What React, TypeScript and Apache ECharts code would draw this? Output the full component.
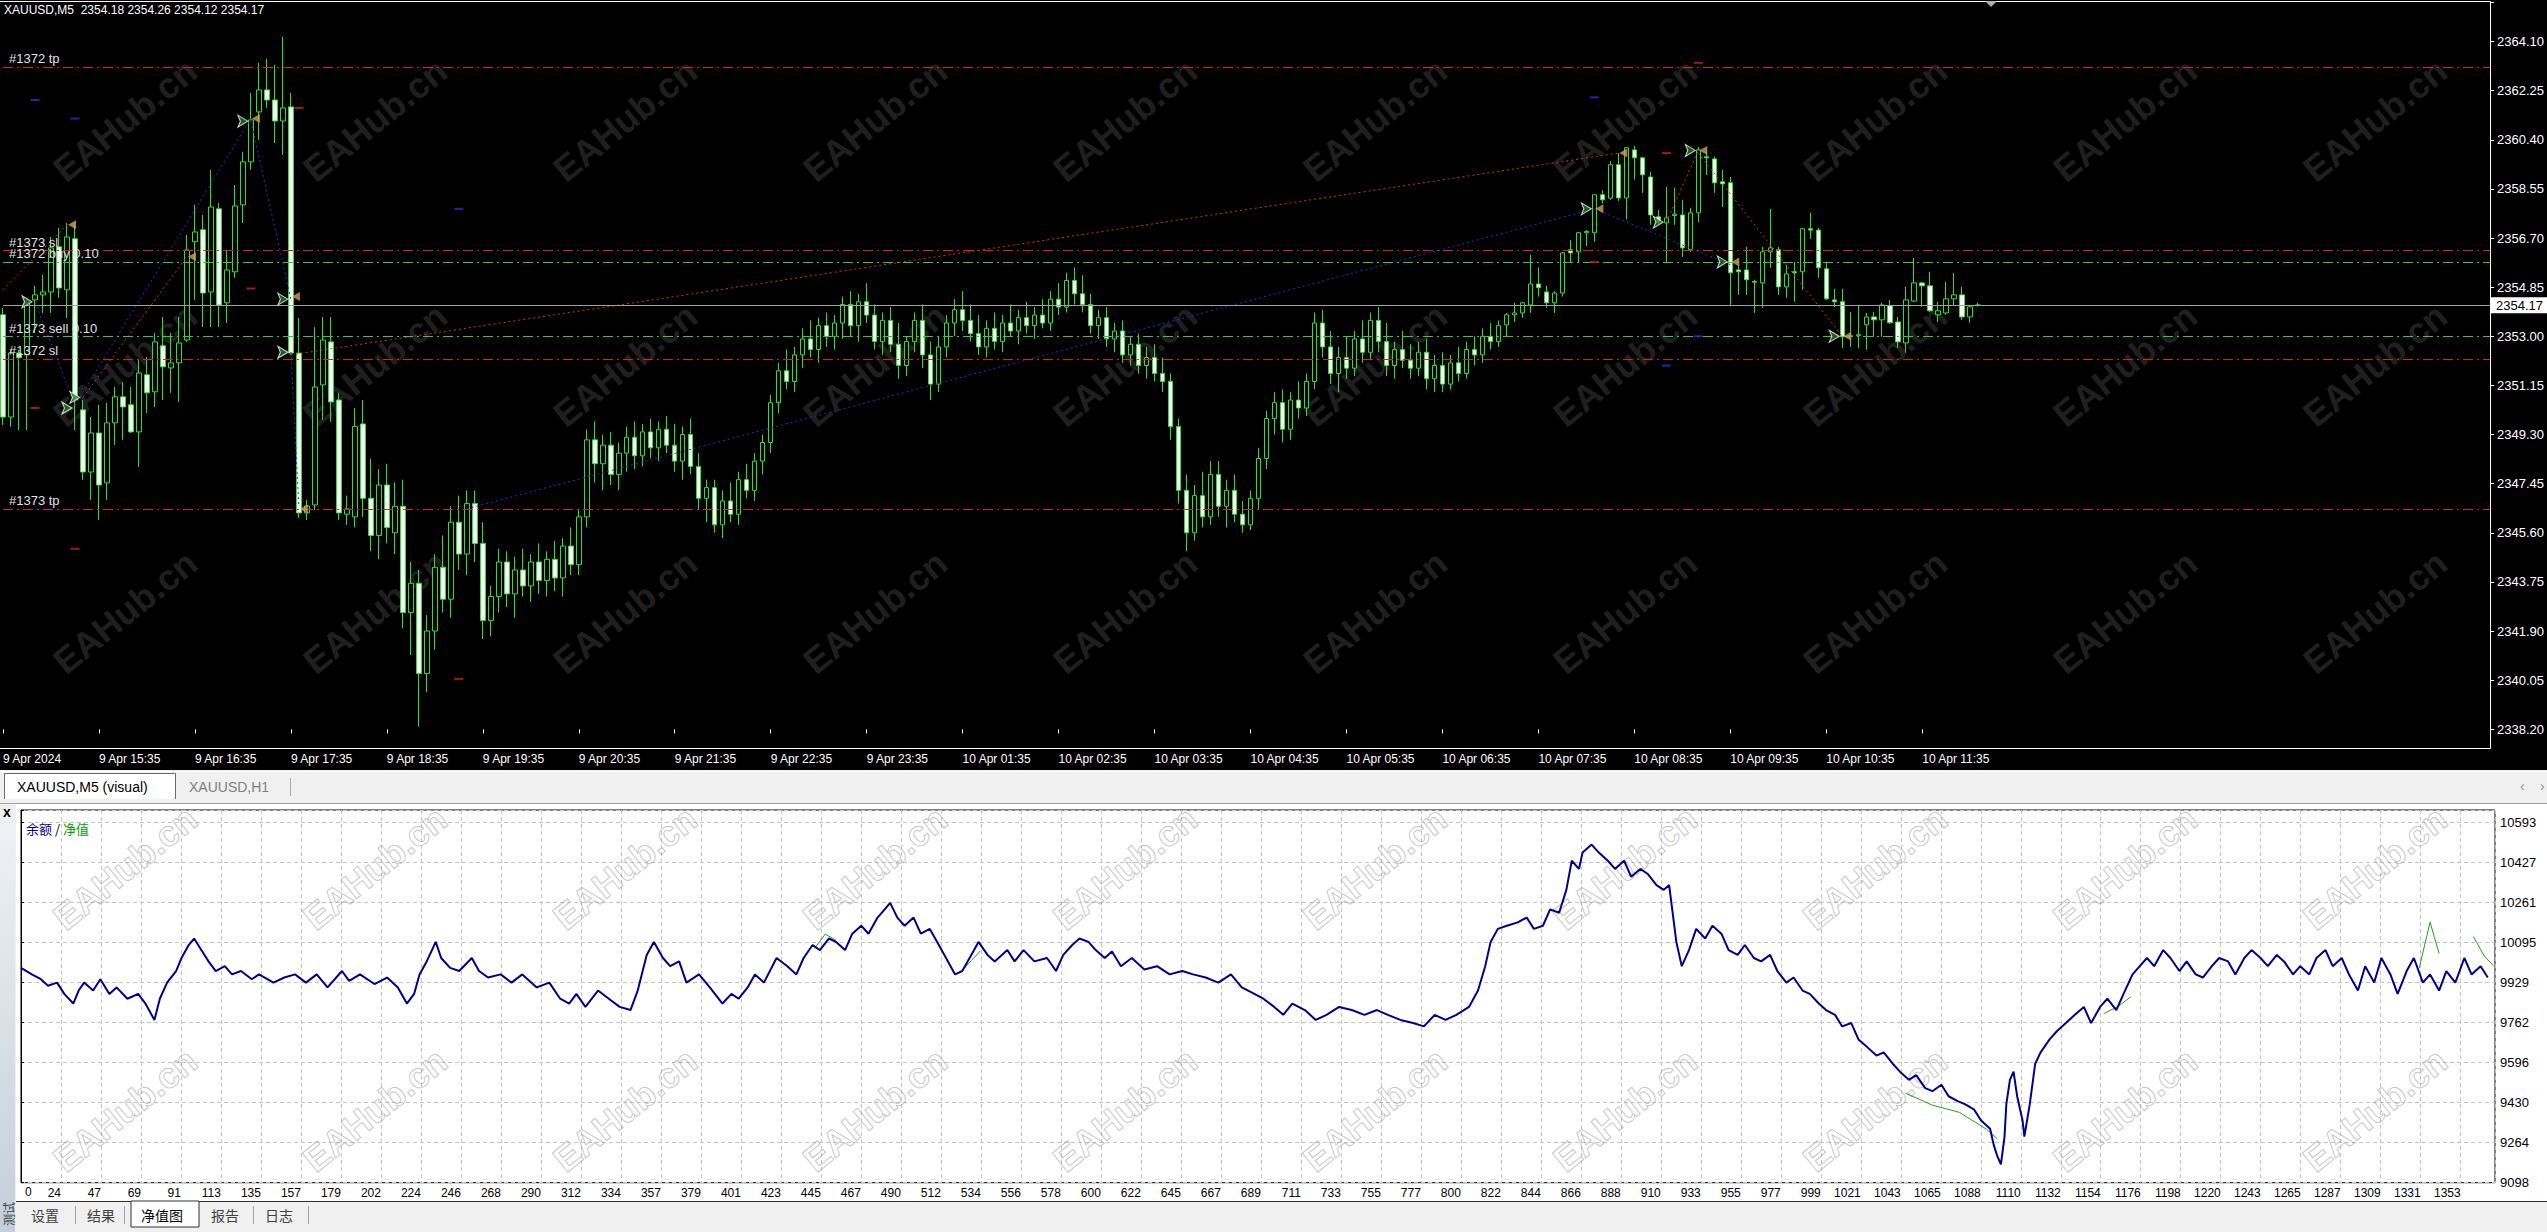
import React, { useEffect, useRef } from "react";
import * as echarts from "echarts";

const W = 2547;
const H = 1232;

// ---------------- price chart data (XAUUSD M5) ----------------
const timeLabels = ["9 Apr 2024","9 Apr 15:35","9 Apr 16:35","9 Apr 17:35","9 Apr 18:35","9 Apr 19:35","9 Apr 20:35","9 Apr 21:35","9 Apr 22:35","9 Apr 23:35","10 Apr 01:35","10 Apr 02:35","10 Apr 03:35","10 Apr 04:35","10 Apr 05:35","10 Apr 06:35","10 Apr 07:35","10 Apr 08:35","10 Apr 09:35","10 Apr 10:35","10 Apr 11:35"];
const priceTickLabels = ["2338.20","2340.05","2341.90","2343.75","2345.60","2347.45","2349.30","2351.15","2353.00","2354.85","2356.70","2358.55","2360.40","2362.25","2364.10"];

const barOpen = [2353.81,2349.96,2352.37,2352.30,2354.37,2354.56,2354.67,2356.37,2354.75,2356.67,2350.23,2347.89,2349.36,2347.48,2349.74,2350.72,2350.42,2349.40,2351.55,2350.91,2352.64,2351.81,2352.00,2352.86,2356.56,2357.01,2354.67,2357.80,2354.26,2355.43,2357.95,2359.57,2361.45,2362.28,2361.90,2361.11,2361.64,2352.37,2346.35,2346.65,2351.17,2352.79,2350.60,
2346.3,2346.2,2349.7,2346.9,2345.5,2347.4,2345.6,2346.6,2342.6,2343.7,2340.3,2341.9,2344.3,2343.1,2346.0,2344.8,2346.7,2345.2,2342.3,2343.2,2344.5,2343.3,2344.2,2343.6,2344.5,2343.8,2344.6,2343.9,2345.1,2344.4,2346.2,2349.1,2348.2,2348.9,2347.8,2348.6,2349.2,2348.5,2349.4,2348.8,2349.5,2348.9,2348.3,2349.3,2348.1,2346.9,2347.3,2345.9,2346.8,2346.3,2347.6,2347.2,2348.3,2349.0,2350.5,2351.7,2351.3,2352.3,2352.9,2352.5,2353.4,2353.0,2353.5,2354.2,2353.4,2354.3,2353.8,2352.8,2353.6,2352.7,2351.9,2352.8,2353.6,2352.3,2351.2,2352.6,2353.5,2354.0,2353.6,2353.1,2352.6,2353.3,2352.8,2353.5,2353.2,2353.7,2353.4,2353.8,2353.5,2354.4,2354.1,2355.1,2354.6,2354.2,2353.4,2353.7,2352.9,2353.2,2352.3,2352.7,2351.9,2352.2,2351.6,2351.3,2349.6,2347.2,2345.6,2347.0,2346.2,2347.8,2346.6,2347.2,2346.3,2345.9,2346.9,2348.4,2349.9,2350.5,2349.5,2350.6,2350.3,2351.3,2353.5,2352.6,2351.6,2352.2,2351.8,2352.9,2352.4,2353.6,2352.8,2351.9,2352.5,2352.1,2351.8,2352.4,2351.4,2351.9,2351.2,2352.0,2351.6,2352.5,2352.3,2353.0,2352.8,
2353.43,2353.81,2353.88,2354.18,2354.97,2354.67,2354.26,2354.63,2356.26,2356.18,2356.90,2356.90,2358.33,2358.20,2359.46,2358.21,2360.02,2359.72,2359.00,2357.50,2357.27,2357.55,2357.57,2356.26,2357.65,2359.76,2359.68,2358.82,2358.78,2355.50,2355.50,2355.06,2355.01,2356.18,2356.26,2354.86,2355.43,2355.43,2357.05,2357.00,2355.54,2354.37,2354.30,2353.00,2353.02,2353.43,2353.73,2353.62,2354.15,2353.54,2352.75,2354.33,2355.01,2354.90,2353.81,2353.88,2354.41,2354.56,2353.73,2354.18];
const barHigh = [2354.07,2352.49,2352.49,2354.37,2354.90,2355.31,2356.74,2357.08,2357.27,2357.27,2350.60,2349.96,2350.42,2350.49,2351.09,2351.28,2351.09,2352.11,2352.22,2353.13,2353.73,2353.13,2353.73,2356.82,2357.95,2357.57,2359.27,2358.02,2356.25,2358.70,2359.95,2362.17,2363.30,2363.45,2363.22,2364.28,2362.17,2353.69,2346.84,2353.35,2353.73,2353.73,2350.87,
2347.0,2350.3,2350.6,2348.4,2348.0,2348.2,2347.5,2347.6,2344.5,2344.2,2342.5,2344.8,2345.5,2346.6,2347.0,2347.2,2347.2,2346.0,2343.6,2345.0,2344.9,2344.7,2345.0,2344.8,2345.2,2344.9,2345.3,2345.4,2345.8,2346.5,2349.5,2349.8,2349.3,2349.4,2349.0,2349.6,2349.8,2349.7,2349.9,2349.8,2350.0,2349.7,2349.6,2349.9,2348.6,2347.6,2347.6,2347.2,2347.5,2347.9,2348.2,2348.6,2349.3,2350.8,2352.0,2352.5,2352.6,2353.3,2353.6,2353.7,2353.9,2353.8,2354.5,2354.7,2354.6,2355.0,2354.2,2353.9,2354.1,2353.5,2353.0,2353.9,2354.2,2352.8,2353.0,2353.8,2354.4,2354.7,2354.2,2353.8,2353.6,2353.9,2353.8,2354.2,2354.0,2354.3,2354.1,2354.4,2354.7,2355.0,2355.4,2355.6,2355.3,2354.6,2354.0,2354.1,2353.5,2353.6,2353.0,2353.1,2352.6,2352.7,2352.2,2351.6,2349.9,2347.8,2347.4,2347.9,2348.3,2348.3,2347.6,2347.8,2346.8,2347.2,2348.8,2350.2,2350.9,2351.0,2350.9,2351.3,2351.6,2353.9,2354.0,2353.2,2352.6,2353.0,2353.2,2353.6,2353.9,2354.1,2353.5,2352.8,2353.2,2352.7,2352.8,2352.9,2352.3,2352.4,2352.3,2352.6,2352.8,2353.0,2353.3,2353.5,2353.6,
2353.88,2354.26,2354.30,2356.07,2355.60,2354.90,2354.70,2356.18,2356.63,2356.93,2357.00,2358.33,2358.50,2359.60,2359.90,2360.13,2360.17,2359.76,2359.20,2357.76,2358.63,2358.60,2358.14,2357.84,2360.13,2359.95,2359.76,2359.27,2359.00,2355.69,2356.37,2355.13,2356.37,2357.80,2356.37,2355.69,2355.80,2357.08,2357.65,2357.08,2355.80,2354.79,2354.79,2353.92,2354.18,2353.88,2353.92,2354.26,2354.37,2353.73,2354.86,2355.95,2355.05,2355.43,2354.30,2355.05,2355.39,2354.86,2354.18,2354.26];
const barLow = [2349.66,2349.59,2349.47,2349.47,2353.13,2353.88,2353.88,2354.45,2353.69,2349.47,2347.59,2346.84,2346.08,2346.84,2348.91,2349.10,2349.36,2348.08,2350.11,2350.34,2350.60,2350.87,2350.53,2352.79,2354.37,2353.35,2353.35,2353.35,2353.50,2355.20,2357.27,2359.27,2360.40,2361.60,2360.28,2359.83,2352.30,2346.16,2346.08,2346.46,2349.85,2349.78,2346.08,
2345.9,2345.8,2346.2,2344.9,2344.6,2345.2,2344.8,2342.0,2341.0,2338.3,2339.6,2341.2,2342.6,2342.4,2344.2,2344.0,2344.5,2341.6,2341.7,2342.6,2342.8,2342.4,2343.2,2343.0,2343.3,2343.2,2343.4,2343.2,2344.0,2344.0,2345.8,2347.5,2347.2,2347.4,2347.2,2347.9,2348.0,2348.1,2348.4,2348.3,2348.6,2347.9,2347.6,2347.8,2346.5,2346.0,2345.6,2345.4,2346.0,2345.9,2346.9,2346.8,2347.8,2348.6,2350.1,2351.0,2350.9,2351.8,2352.2,2352.0,2352.6,2352.5,2352.9,2353.0,2352.8,2353.5,2352.5,2352.3,2352.4,2351.4,2351.5,2352.4,2351.8,2350.6,2350.9,2352.2,2353.0,2353.2,2352.8,2352.3,2352.2,2352.5,2352.4,2353.0,2352.7,2353.1,2352.9,2353.3,2353.2,2353.8,2353.9,2354.2,2353.9,2353.1,2352.9,2352.6,2352.4,2352.0,2351.9,2351.6,2351.4,2351.3,2350.9,2349.1,2346.7,2344.9,2345.3,2345.8,2345.9,2346.2,2345.8,2346.0,2345.6,2345.7,2346.5,2348.0,2349.3,2349.0,2349.1,2349.9,2350.0,2351.0,2352.2,2351.2,2350.9,2351.4,2351.5,2352.0,2352.1,2352.4,2351.5,2351.4,2351.8,2351.4,2351.5,2351.0,2350.9,2350.9,2351.0,2351.3,2351.4,2351.9,2352.0,2352.5,2352.6,
2352.98,2353.54,2353.70,2353.88,2354.50,2354.07,2353.88,2354.50,2355.80,2355.77,2356.40,2356.56,2358.00,2358.14,2358.10,2357.40,2358.90,2358.40,2357.20,2357.20,2355.80,2357.20,2355.99,2356.18,2357.30,2359.08,2358.40,2357.87,2354.18,2354.56,2354.56,2353.88,2354.07,2355.58,2354.56,2354.45,2354.30,2354.75,2356.67,2355.20,2354.37,2354.10,2352.56,2352.60,2352.56,2352.49,2352.98,2352.98,2353.47,2352.56,2352.38,2354.30,2354.11,2353.92,2353.54,2353.81,2354.18,2353.62,2353.51,2354.12];
const barClose = [2349.96,2352.37,2352.19,2354.26,2354.56,2354.67,2356.33,2354.82,2356.74,2350.60,2347.89,2349.36,2347.40,2349.74,2350.72,2350.34,2349.40,2351.62,2350.87,2352.79,2351.85,2352.00,2352.75,2356.25,2356.93,2354.63,2357.87,2354.18,2355.50,2357.91,2359.57,2361.15,2362.28,2361.90,2361.11,2361.60,2352.37,2346.35,2346.61,2351.09,2352.86,2350.53,2346.35,
2346.5,2349.6,2346.9,2345.5,2347.4,2345.8,2346.6,2342.6,2343.7,2340.3,2341.9,2344.3,2343.1,2346.0,2344.8,2346.7,2345.2,2342.3,2343.2,2344.5,2343.3,2344.2,2343.6,2344.5,2343.8,2344.6,2343.9,2345.1,2344.4,2346.2,2349.1,2348.2,2348.9,2347.8,2348.6,2349.2,2348.5,2349.4,2348.8,2349.5,2348.9,2348.3,2349.3,2348.1,2346.9,2347.3,2345.9,2346.8,2346.3,2347.6,2347.2,2348.3,2349.0,2350.5,2351.7,2351.3,2352.3,2352.9,2352.5,2353.4,2353.0,2353.5,2354.2,2353.4,2354.3,2353.8,2352.8,2353.6,2352.7,2351.9,2352.8,2353.6,2352.3,2351.2,2352.6,2353.5,2354.0,2353.6,2353.1,2352.6,2353.3,2352.8,2353.5,2353.2,2353.7,2353.4,2353.8,2353.5,2354.4,2354.1,2355.1,2354.6,2354.2,2353.4,2353.7,2352.9,2353.2,2352.3,2352.7,2351.9,2352.2,2351.6,2351.3,2349.6,2347.2,2345.6,2347.0,2346.2,2347.8,2346.6,2347.2,2346.3,2345.9,2346.9,2348.4,2349.9,2350.5,2349.5,2350.6,2350.3,2351.3,2353.5,2352.6,2351.6,2352.2,2351.8,2352.9,2352.4,2353.6,2352.8,2351.9,2352.5,2352.1,2351.8,2352.4,2351.4,2351.9,2351.2,2352.0,2351.6,2352.5,2352.3,2353.0,2352.8,2353.4,
2353.81,2353.88,2354.26,2354.97,2354.83,2354.26,2354.63,2356.14,2356.14,2356.90,2356.95,2358.33,2358.14,2359.46,2358.21,2360.10,2359.72,2359.08,2357.57,2357.27,2357.46,2357.60,2356.33,2357.65,2360.02,2359.72,2358.78,2358.74,2355.39,2355.43,2355.13,2355.04,2356.18,2356.33,2354.86,2355.35,2355.39,2357.05,2357.00,2355.58,2354.41,2354.30,2352.98,2353.02,2353.06,2353.73,2353.62,2354.18,2353.51,2352.79,2354.37,2355.01,2354.90,2353.96,2353.96,2354.41,2354.56,2353.73,2354.11,2354.17];

const orderNames = ["#1372 tp", "#1373 sl", "#1372 buy 0.10", "#1373 sell 0.10", "#1372 sl", "#1373 tp"];
const orderPrices = [2363.15, 2356.23, 2355.79, 2352.99, 2352.15, 2346.50];
const orderIsEntry = [false, false, true, true, false, false];
const lastPrice = 2354.17;
const headerText = "XAUUSD,M5  2354.18 2354.26 2354.12 2354.17";

// trade connection lines: [bar, price] -> [bar, price]
const buyTradeBars = [[4, 9], [9, 31], [31, 36], [36, 37], [58, 199], [199, 216]];
const buyTradePrices = [[2354.3, 2350.4], [2350.4, 2361.2], [2361.1, 2354.4], [2352.4, 2346.6], [2346.5, 2357.8], [2357.8, 2355.7]];
const sellTradeBars = [[0, 8], [10, 23], [36, 202], [208, 212], [212, 230]];
const sellTradePrices = [[2354.75, 2357.2], [2350.7, 2356.0], [2352.3, 2359.9], [2357.3, 2360.0], [2359.9, 2353.0]];
// trade arrows
const openArrowBars = [4, 9, 10, 31, 36, 36, 199, 208, 212, 216, 230];
const openArrowPrices = [2354.3, 2350.3, 2350.7, 2361.1, 2354.4, 2352.4, 2357.8, 2357.3, 2360.0, 2355.8, 2353.0];
const closeMarkBars = [8, 23, 31, 36, 37, 199, 202, 212, 216, 230];
const closeMarkPrices = [2357.2, 2356.0, 2361.2, 2354.5, 2346.5, 2357.8, 2359.9, 2360.0, 2355.8, 2353.0];
// stop / take-profit history dashes
const redDashBars = [4, 9, 31, 37, 57, 199, 208, 212];
const redDashPrices = [2350.3, 2345.0, 2354.8, 2361.6, 2340.1, 2355.8, 2359.9, 2363.3];
const blueDashBars = [4, 9, 57, 199, 208, 212];
const blueDashPrices = [2361.9, 2361.2, 2357.8, 2362.0, 2351.9, 2353.0];

// ---------------- equity chart data ----------------
const eqXLabels = ["0","24","47","69","91","113","135","157","179","202","224","246","268","290","312","334","357","379","401","423","445","467","490","512","534","556","578","600","622","645","667","689","711","733","755","777","800","822","844","866","888","910","933","955","977","999","1021","1043","1065","1088","1110","1132","1154","1176","1198","1220","1243","1265","1287","1309","1331","1353"];
const eqYLabels = ["9098","9264","9430","9596","9762","9929","10095","10261","10427","10593"];
const eqIndex = [0,6,11,15,20,24,29,32,35,40,44,49,53,59,65,69,74,77,81,86,89,93,96,100,104,108,113,117,122,128,132,140,146,152,158,164,170,178,182,188,196,203,209,214,218,221,225,230,233,238,243,250,254,259,266,272,278,286,293,299,304,308,313,320,326,332,338,342,347,351,356,360,365,369,376,382,389,394,398,403,407,412,419,425,430,434,439,443,448,452,457,461,466,470,475,479,482,486,490,495,499,504,509,513,518,522,527,531,536,540,547,551,556,562,569,574,578,583,587,592,596,601,605,610,616,623,630,637,644,650,657,664,671,677,684,689,695,700,705,712,718,724,731,738,745,752,758,765,772,778,784,790,796,803,808,812,815,819,824,830,835,839,844,848,853,857,860,864,866,871,875,880,884,889,893,898,902,907,911,914,918,921,925,929,934,938,943,947,952,956,961,965,970,974,979,983,988,992,997,1001,1006,1010,1015,1019,1024,1029,1033,1038,1042,1047,1051,1056,1060,1065,1069,1074,1078,1083,1087,1092,1094,1096,1098,1100,1101,1103,1105,1107,1110,1111,1114,1117,1120,1125,1129,1134,1139,1144,1148,1153,1157,1162,1166,1171,1175,1179,1183,1188,1192,1197,1201,1206,1210,1215,1219,1224,1228,1233,1237,1242,1246,1251,1255,1260,1264,1269,1273,1278,1282,1287,1291,1296,1300,1305,1309,1314,1318,1323,1327,1332,1336,1341,1345,1350,1355,1359,1364,1368];
const eqBalance = [9990,9963,9943,9916,9929,9882,9842,9896,9929,9896,9943,9882,9909,9862,9882,9842,9774,9862,9929,9977,10031,10085,10112,10064,10017,9977,9997,9963,9977,9943,9963,9929,9950,9963,9929,9963,9909,9977,9936,9963,9923,9950,9909,9842,9882,9963,10017,10098,10031,9990,9977,10031,9977,9950,9963,9929,9963,9909,9929,9862,9842,9882,9828,9896,9862,9828,9815,9896,10044,10098,10031,9997,10017,9929,9963,9909,9842,9882,9862,9909,9963,9929,10031,9997,9963,10031,10085,10064,10112,10098,10064,10132,10165,10132,10199,10233,10260,10199,10165,10199,10132,10152,10085,10031,9963,9977,10044,10098,10044,10017,10064,10017,10064,10017,10031,9977,10044,10085,10112,10098,10064,10031,10058,9997,10031,9983,9997,9963,9977,9963,9950,9929,9963,9909,9882,9862,9828,9795,9842,9815,9774,9795,9828,9815,9795,9815,9795,9774,9761,9747,9795,9774,9795,9828,9896,9997,10098,10152,10165,10179,10199,10152,10165,10233,10219,10314,10435,10401,10469,10502,10469,10435,10401,10435,10368,10401,10381,10334,10314,10334,10098,9997,10064,10152,10112,10165,10132,10064,10044,10085,10031,10017,10044,9977,9929,9950,9896,9882,9842,9815,9795,9747,9761,9693,9660,9626,9639,9592,9559,9525,9545,9491,9478,9505,9457,9437,9424,9403,9356,9322,9255,9208,9174,9289,9424,9525,9559,9457,9356,9289,9424,9592,9639,9693,9727,9761,9795,9828,9761,9828,9862,9815,9882,9963,9997,10031,9997,10064,10031,9977,10017,9963,9950,9997,10031,10017,9963,10031,10064,10031,9997,10044,10017,9963,9997,9963,10031,10064,9997,10031,9963,9896,9997,9929,10031,9963,9882,9977,10031,9929,9963,9896,9977,9929,10031,9963,9997,9950];
// equity (green) where it separates from the balance line; null breaks the line
const eqGreenIndex = [440, 446, 452, null, 522, 527, 532, null, 1045, 1060, 1075, 1090, 1096, null, 1155, 1163, 1170, null, 1330, 1336, 1341, null, 1360, 1366, 1371];
const eqGreenValue = [10070, 10130, 10105, null, 9980, 10020, 10060, null, 9470, 9420, 9390, 9320, 9280, null, 9800, 9830, 9870, null, 9990, 10180, 10050, null, 10120, 10040, 10000];

// ---------------- axis constants ----------------
const PRICE_BASE = 2338.2;
const PRICE_STEP = 1.85;
const PRICE_SPAN = 27.39;
const BAR_SLOTS = 312;
const EQ_BASE = 9098;
const EQ_STEP = 166.11;
const EQ_SPAN = 1547.7;
const EQ_X_STEP = 22.18;
const EQ_X_MAX = 1372;

const FONT = '"Liberation Sans", Arial, sans-serif';
const CJK = '"Noto Sans CJK SC", "Noto Sans", sans-serif';

function txt(x: number, y: number, text: string, style: any, extra: any = {}) {
  return { type: "text", x, y, silent: true, style: { text, ...style }, ...extra };
}

function buildGraphics() {
  const g: any[] = [];
  g.push({ type: "rect", silent: true, z: -100, shape: { x: 0, y: 0, width: W, height: 770 }, style: { fill: "#000" } });
  g.push({ type: "rect", silent: true, z: -100, shape: { x: 0, y: 770, width: W, height: H - 770 }, style: { fill: "#f0f0f0" } });
  g.push({ type: "rect", silent: true, z: -99, shape: { x: 16, y: 804, width: W - 16, height: 397 }, style: { fill: "#ffffff" } });
  g.push({
    type: "rect", silent: true, z: -99, shape: { x: 0, y: 824, width: 15, height: H - 824 },
    style: { fill: new echarts.graphic.LinearGradient(0, 0, 0, 1, [{ offset: 0, color: "#eef1f5" }, { offset: 1, color: "#c3cfdb" }]) },
  });
  g.push({ type: "line", silent: true, z: 5, shape: { x1: 0, y1: 1.5, x2: 2490.5, y2: 1.5 }, style: { stroke: "#ffffff", lineWidth: 1 } });
  g.push({ type: "line", silent: true, z: 5, shape: { x1: 2490.5, y1: 1.5, x2: 2490.5, y2: 748.5 }, style: { stroke: "#ffffff", lineWidth: 1 } });
  g.push({ type: "line", silent: true, z: 5, shape: { x1: 0, y1: 748.5, x2: 2490.5, y2: 748.5 }, style: { stroke: "#ffffff", lineWidth: 1 } });
  g.push({ type: "polygon", silent: true, z: 5, shape: { points: [[1985, 1], [1997, 1], [1991, 7]] }, style: { fill: "#b0b0b0" } });
  g.push(txt(4, 10, headerText, { fill: "#ffffff", font: `12px ${FONT}`, textVerticalAlign: "middle", verticalAlign: "middle" }, { z: 6 }));

  g.push({ type: "line", silent: true, z: -98, shape: { x1: 0, y1: 771.5, x2: W, y2: 771.5 }, style: { stroke: "#ffffff", lineWidth: 1 } });
  g.push({ type: "rect", silent: true, z: -97, shape: { x: 4, y: 773, width: 171, height: 26 }, style: { fill: "#ffffff" } });
  g.push({ type: "polyline", silent: true, z: -96, shape: { points: [[4.5, 799], [4.5, 773.5], [175.5, 773.5], [175.5, 799]] }, style: { stroke: "#6a6a6a", lineWidth: 1, fill: "none" } });
  g.push(txt(17, 787, "XAUUSD,M5 (visual)", { fill: "#000", font: `14px ${FONT}`, textVerticalAlign: "middle", verticalAlign: "middle" }));
  g.push(txt(189, 787, "XAUUSD,H1", { fill: "#808080", font: `14px ${FONT}`, textVerticalAlign: "middle", verticalAlign: "middle" }));
  g.push({ type: "line", silent: true, shape: { x1: 290.5, y1: 778, x2: 290.5, y2: 796 }, style: { stroke: "#a8a8a8", lineWidth: 1 } });
  g.push(txt(2520, 786, "‹", { fill: "#909090", font: `14px ${FONT}`, textVerticalAlign: "middle", verticalAlign: "middle" }));
  g.push(txt(2540, 786, "›", { fill: "#909090", font: `14px ${FONT}`, textVerticalAlign: "middle", verticalAlign: "middle" }));
  g.push({ type: "line", silent: true, z: -98, shape: { x1: 0, y1: 803.5, x2: W, y2: 803.5 }, style: { stroke: "#a0a0a0", lineWidth: 1 } });
  g.push(txt(7, 812, "x", { fill: "#000", font: `bold 14px ${FONT}`, textAlign: "center", align: "center", textVerticalAlign: "middle", verticalAlign: "middle" }));

  g.push(txt(26, 828, "{a|余额} {b|/} {c|净值}", {
    font: `13px ${CJK}`, textVerticalAlign: "middle", verticalAlign: "middle",
    rich: { a: { fill: "#000080", font: `13px ${CJK}` }, b: { fill: "#000", font: `13px ${CJK}` }, c: { fill: "#00a000", font: `13px ${CJK}` } },
  }, { z: 10 }));
  g.push(txt(25, 1192, eqXLabels[0], { fill: "#000", font: `12px ${FONT}`, textVerticalAlign: "middle", verticalAlign: "middle" }));

  g.push({ type: "line", silent: true, shape: { x1: 16, y1: 1201.5, x2: W, y2: 1201.5 }, style: { stroke: "#303030", lineWidth: 1 } });
  g.push({ type: "rect", silent: true, shape: { x: 131, y: 1201, width: 68, height: 26 }, style: { fill: "#ffffff", stroke: "#303030", lineWidth: 1 } });
  const tabNames = ["设置", "结果", "净值图", "报告", "日志"];
  const tabX = [31, 87, 141, 211, 265];
  tabNames.forEach((t, i) => g.push(txt(tabX[i], 1215, t, { fill: i === 2 ? "#000" : "#404040", font: `14px ${CJK}`, textVerticalAlign: "middle", verticalAlign: "middle" })));
  [75.5, 124.5, 253.5, 308.5].forEach((x) => g.push({ type: "line", silent: true, shape: { x1: x, y1: 1206, x2: x, y2: 1224 }, style: { stroke: "#a0a0a0", lineWidth: 1 } }));
  g.push(txt(8, 1214, "测试", { fill: "#404040", font: `12px ${CJK}`, textAlign: "center", align: "center", textVerticalAlign: "middle", verticalAlign: "middle" }, { rotation: Math.PI / 2 }));

  const cols = [125, 375, 625, 875, 1125, 1375, 1625, 1875, 2125, 2375];
  [120, 365, 612].forEach((y) => cols.forEach((x) => g.push(txt(x, y, "EAHub.cn", {
    fill: "rgba(255,255,255,0.14)", font: `bold 36px ${FONT}`, textAlign: "center", align: "center", textVerticalAlign: "middle", verticalAlign: "middle",
  }, { rotation: 0.68, z: 1 }))));
  [868, 1110].forEach((y) => cols.forEach((x) => g.push(txt(x, y, "EAHub.cn", {
    fill: "rgba(255,255,255,0)", stroke: "rgba(150,150,150,0.55)", lineWidth: 1, font: `bold 36px ${FONT}`, textAlign: "center", align: "center", textVerticalAlign: "middle", verticalAlign: "middle",
  }, { rotation: 0.68, z: 1 }))));
  return g;
}

function buildOption() {
  const cats = Array.from({ length: BAR_SLOTS }, (_, i) => String(i));
  const candleData = barOpen.map((o, i) => [o - PRICE_BASE, barClose[i] - PRICE_BASE, barLow[i] - PRICE_BASE, barHigh[i] - PRICE_BASE]);
  const tickShown = (idx: number) => idx % 12 === 0 && idx / 12 < timeLabels.length;

  const markData: any[] = orderNames.map((name, i) => ({
    yAxis: orderPrices[i] - PRICE_BASE,
    lineStyle: { color: orderIsEntry[i] ? "#3cc83c" : "#e01e1e", type: [10, 4, 2, 4], width: 1 },
    label: { show: true, position: "insideStartTop", formatter: name, color: "#e0e0e0", fontSize: 13, fontFamily: FONT, distance: [6, 2] },
  }));
  markData.push({
    yAxis: lastPrice - PRICE_BASE,
    lineStyle: { color: "#a0a0a0", type: "solid", width: 1 },
    label: { show: true, position: "end", formatter: lastPrice.toFixed(2), color: "#000", backgroundColor: "#ffffff", padding: [2, 6, 1, 5], fontSize: 13, fontFamily: FONT, distance: 1 },
  });

  const extra: any[] = [];
  buyTradeBars.forEach((b, i) => extra.push({
    type: "line", xAxisIndex: 0, yAxisIndex: 0, symbol: "none", silent: true, z: 4,
    lineStyle: { color: "#2a2ae0", width: 1, type: [2, 3] },
    data: [[b[0], buyTradePrices[i][0] - PRICE_BASE], [b[1], buyTradePrices[i][1] - PRICE_BASE]],
  }));
  sellTradeBars.forEach((b, i) => extra.push({
    type: "line", xAxisIndex: 0, yAxisIndex: 0, symbol: "none", silent: true, z: 4,
    lineStyle: { color: "#e02a2a", width: 1, type: [2, 3] },
    data: [[b[0], sellTradePrices[i][0] - PRICE_BASE], [b[1], sellTradePrices[i][1] - PRICE_BASE]],
  }));
  extra.push({
    type: "scatter", xAxisIndex: 0, yAxisIndex: 0, silent: true, z: 5,
    symbol: "rect", symbolSize: [9, 2], itemStyle: { color: "#d01e1e" },
    data: redDashBars.map((b, i) => [b, redDashPrices[i] - PRICE_BASE]),
  });
  extra.push({
    type: "scatter", xAxisIndex: 0, yAxisIndex: 0, silent: true, z: 5,
    symbol: "rect", symbolSize: [9, 2], itemStyle: { color: "#2a2ae0" },
    data: blueDashBars.map((b, i) => [b, blueDashPrices[i] - PRICE_BASE]),
  });
  extra.push({
    type: "scatter", xAxisIndex: 0, yAxisIndex: 0, silent: true, z: 6,
    symbol: "triangle", symbolSize: [9, 8], symbolRotate: 90, symbolOffset: [5, 0],
    itemStyle: { color: "#d8a050" },
    data: closeMarkBars.map((b, i) => [b, closeMarkPrices[i] - PRICE_BASE]),
  });
  extra.push({
    type: "scatter", xAxisIndex: 0, yAxisIndex: 0, silent: true, z: 7,
    symbol: "arrow", symbolSize: [9, 10], symbolRotate: -90, symbolOffset: [-3, 0],
    itemStyle: { color: "#1e7a1e", borderColor: "#ffffff", borderWidth: 1 },
    data: openArrowBars.map((b, i) => [b, openArrowPrices[i] - PRICE_BASE]),
  });

  return {
    animation: false,
    backgroundColor: "#f0f0f0",
    graphic: { elements: buildGraphics() },
    grid: [
      { left: 2, top: 2, width: 2488, height: 727.3, show: false },
      { left: 21, top: 810, width: 2474, height: 372.7, show: true, backgroundColor: "#ffffff", borderColor: "#000", borderWidth: 1 },
    ],
    xAxis: [
      {
        type: "category", gridIndex: 0, data: cats, boundaryGap: false, offset: 19,
        axisLine: { show: false },
        axisTick: { show: true, interval: (idx: number) => tickShown(idx), length: 4, lineStyle: { color: "#ffffff" } },
        axisLabel: {
          interval: (idx: number) => tickShown(idx), color: "#ffffff", fontSize: 12, fontFamily: FONT, align: "left", margin: 5,
          formatter: (_v: string, idx: number) => timeLabels[idx / 12] || "",
        },
        splitLine: { show: false },
      },
      {
        type: "value", gridIndex: 1, min: 0, max: EQ_X_MAX, interval: EQ_X_STEP,
        axisLine: { show: false }, axisTick: { show: false },
        axisLabel: {
          color: "#000", fontSize: 12, fontFamily: FONT, align: "right", margin: 4,
          formatter: (v: number) => {
            const i = Math.round(v / EQ_X_STEP);
            if (i === 0 || Math.abs(v - i * EQ_X_STEP) > 0.5) return "";
            return eqXLabels[i] || "";
          },
        },
        splitLine: { show: true, lineStyle: { color: "#c4c4c4", type: [4, 3], width: 1 } },
      },
    ],
    yAxis: [
      {
        type: "value", gridIndex: 0, position: "right", min: 0, max: PRICE_SPAN, interval: PRICE_STEP,
        axisLine: { show: false },
        axisTick: { show: true, length: 4, lineStyle: { color: "#ffffff" } },
        axisLabel: {
          color: "#ffffff", fontSize: 13, fontFamily: FONT, margin: 7,
          formatter: (v: number) => {
            const i = Math.round(v / PRICE_STEP);
            if (Math.abs(v - i * PRICE_STEP) > 0.01) return "";
            return priceTickLabels[i] || "";
          },
        },
        splitLine: { show: false },
      },
      {
        type: "value", gridIndex: 1, position: "right", min: 0, max: EQ_SPAN, interval: EQ_STEP,
        axisLine: { show: true, lineStyle: { color: "#000" } },
        axisTick: { show: true, length: 3, lineStyle: { color: "#000" } },
        axisLabel: {
          color: "#000", fontSize: 13, fontFamily: FONT, margin: 5,
          formatter: (v: number) => {
            const i = Math.round(v / EQ_STEP);
            if (Math.abs(v - i * EQ_STEP) > 1) return "";
            return eqYLabels[i] || "";
          },
        },
        splitLine: { show: true, lineStyle: { color: "#c4c4c4", type: [4, 3], width: 1 } },
      },
    ],
    series: [
      {
        type: "candlestick", xAxisIndex: 0, yAxisIndex: 0, data: candleData, barWidth: 5, clip: false, z: 3,
        itemStyle: { color: "#000000", color0: "#ffffff", borderColor: "#30e030", borderColor0: "#30e030", borderWidth: 1 },
        markLine: { symbol: ["none", "none"], silent: true, animation: false, data: markData },
      },
      ...extra,
      {
        type: "line", xAxisIndex: 1, yAxisIndex: 1, symbol: "none", silent: true, z: 3, connectNulls: false,
        lineStyle: { color: "#22a022", width: 1 },
        data: eqGreenIndex.map((x, i) => (x === null ? [null, null] : [x, (eqGreenValue[i] as number) - EQ_BASE])),
      },
      {
        type: "line", xAxisIndex: 1, yAxisIndex: 1, symbol: "none", silent: true, z: 4,
        lineStyle: { color: "#00008c", width: 2 },
        data: eqIndex.map((x, i) => [x, eqBalance[i] - EQ_BASE]),
      },
    ],
  };
}

export default function App() {
  const ref = useRef<HTMLDivElement>(null);
  useEffect(() => {
    const chart = echarts.init(ref.current as HTMLDivElement, null, { renderer: "svg", width: W, height: H });
    chart.setOption(buildOption() as any);
    return () => chart.dispose();
  }, []);
  return <div ref={ref} style={{ position: "fixed", left: 0, top: 0, width: W, height: H }} />;
}
